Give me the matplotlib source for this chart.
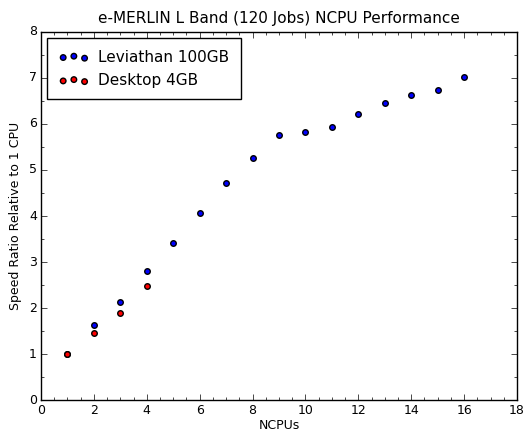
import matplotlib
matplotlib.use('Agg')
import matplotlib.pyplot as plt
from matplotlib.ticker import MultipleLocator

# NCPU speed ratios
ncpus_lev = [1, 2, 3, 4, 5, 6, 7, 8, 9, 10, 11, 12, 13, 14, 15, 16]
ratio_lev = [1.0, 1.63, 2.12, 2.80, 3.41, 4.06, 4.71, 5.26, 5.77, 5.82, 5.93, 6.21, 6.46, 6.63, 6.74, 7.02]
ncpus_desk = [1, 2, 3, 4]
ratio_desk = [1.0, 1.46, 1.89, 2.48]

plt.style.use('classic')
fig = plt.figure(figsize=(5.26, 4.32), dpi=100)
ax = fig.add_axes([0.078, 0.074, 0.905, 0.852])

ax.scatter(ncpus_lev, ratio_lev, c='blue', s=16, label='Leviathan 100GB', zorder=3)
ax.scatter(ncpus_desk, ratio_desk, c='red', s=16, label='Desktop 4GB', zorder=4)

ax.set_xlim(0, 18)
ax.set_ylim(0, 8)
ax.xaxis.set_major_locator(MultipleLocator(2))
ax.xaxis.set_minor_locator(MultipleLocator(0.5))
ax.yaxis.set_major_locator(MultipleLocator(1))
ax.yaxis.set_minor_locator(MultipleLocator(0.5))
ax.tick_params(labelsize=9, length=4, pad=3)
ax.tick_params(which='minor', length=2)

ax.set_title('e-MERLIN L Band (120 Jobs) NCPU Performance', fontsize=11, y=1.005)
ax.set_xlabel('NCPUs', fontsize=9, labelpad=1)
ax.set_ylabel('Speed Ratio Relative to 1 CPU', fontsize=9)
ax.legend(loc='upper left', scatterpoints=3, fontsize=11,
          borderpad=0.75, labelspacing=0.55, borderaxespad=0.4, handletextpad=0.6)

fig.savefig('out.png', dpi=100)
